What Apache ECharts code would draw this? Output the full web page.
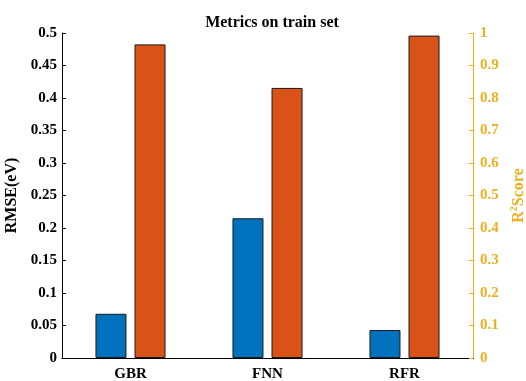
<!DOCTYPE html>
<html><head><meta charset="utf-8">
<script src="https://cdn.jsdelivr.net/npm/echarts@6/dist/echarts.min.js"></script>
<style>html,body{margin:0;padding:0;background:#fff}#c{width:526px;height:381px}</style>
</head><body><div id="c"></div>
<script>
const categories = ['GBR', 'FNN', 'RFR'];
const rmseValues = [0.068, 0.215, 0.043];
const r2Values = [0.965, 0.831, 0.992];
const leftTicks = {min: 0, max: 0.5, interval: 0.05};
const rightTicks = {min: 0, max: 1, interval: 0.1};

const font = 'Liberation Serif';
const gold = '#EDB120';
const chart = echarts.init(document.getElementById('c'));
chart.setOption({
  animation: false,
  title: {
    text: 'Metrics on train set', left: 267, top: 10, textAlign: 'center',
    textStyle: {fontFamily: font, fontWeight: 'bold', fontSize: 16, color: '#000'}
  },
  grid: {left: 62, right: 53, top: 33, bottom: 23, containLabel: false, outerBoundsMode: 'none'},
  xAxis: [{
    type: 'category', data: categories, position: 'bottom',
    axisLine: {lineStyle: {color: '#000', width: 1}},
    axisTick: {inside: true, alignWithLabel: true, length: 4, lineStyle: {color: '#000'}},
    axisLabel: {fontFamily: font, fontWeight: 'bold', fontSize: 15, color: '#000', margin: 9}
  }, {
    type: 'category', data: categories, position: 'top',
    axisLine: {lineStyle: {color: '#000', width: 1}},
    axisTick: {inside: true, alignWithLabel: true, length: 4, lineStyle: {color: '#000'}},
    axisLabel: {show: false}
  }],
  yAxis: [{
    type: 'value', position: 'left', min: leftTicks.min, max: leftTicks.max, interval: leftTicks.interval,
    name: 'RMSE(eV)', nameLocation: 'middle', nameRotate: 90, nameGap: 38,
    nameTextStyle: {fontFamily: font, fontWeight: 'bold', fontSize: 16, color: '#000'},
    axisLine: {show: true, lineStyle: {color: '#000', width: 1}},
    axisTick: {show: true, inside: true, length: 4, lineStyle: {color: '#000'}},
    axisLabel: {fontFamily: font, fontWeight: 'bold', fontSize: 15, color: '#000', margin: 5},
    splitLine: {show: false}
  }, {
    type: 'value', position: 'right', min: rightTicks.min, max: rightTicks.max, interval: rightTicks.interval,
    name: 'R{sup|2}Score', nameLocation: 'middle', nameRotate: 90, nameGap: 33,
    nameTextStyle: {fontFamily: font, fontWeight: 'bold', fontSize: 16, color: gold,
      rich: {sup: {fontFamily: font, fontWeight: 'bold', fontSize: 10, color: gold, verticalAlign: 'top', padding: [0, 0, 8, 0]}}},
    axisLine: {show: true, lineStyle: {color: gold, width: 1}},
    axisTick: {show: true, inside: true, length: 4, lineStyle: {color: gold}},
    axisLabel: {fontFamily: font, fontWeight: 'bold', fontSize: 15, color: gold, margin: 7},
    splitLine: {show: false}
  }],
  series: [{
    type: 'bar', name: 'RMSE', data: rmseValues, xAxisIndex: 0, yAxisIndex: 0,
    barWidth: 31, barGap: '26%',
    itemStyle: {color: '#0072BD', borderColor: '#1a1a1a', borderWidth: 1}
  }, {
    type: 'bar', name: 'R2', data: r2Values, xAxisIndex: 0, yAxisIndex: 1,
    barWidth: 31, barGap: '26%',
    itemStyle: {color: '#D95319', borderColor: '#1a1a1a', borderWidth: 1}
  }]
});
</script></body></html>
